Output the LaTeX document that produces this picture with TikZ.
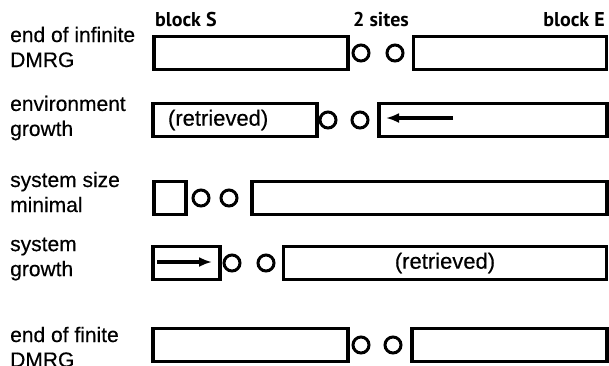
\documentclass[tikz,border=0pt]{standalone}
\usepackage{fontspec}
\setmainfont{Liberation Sans}[FakeBold=0.4]
\newfontfamily\hdrfont{PT Sans}
\usetikzlibrary{arrows.meta}
\begin{document}
\begin{tikzpicture}[x=1pt,y=-1pt,
  blk/.style={draw, line width=3.2pt, inner sep=0pt, minimum height=33pt,
    font=\fontsize{22}{24}\selectfont},
  site/.style={draw, circle, line width=3pt, inner sep=0pt, minimum size=16pt},
  lbl/.style={anchor=west, align=left, inner sep=0pt,
    font=\fontsize{21}{25}\selectfont},
  hdr/.style={anchor=base, inner sep=0pt, font=\hdrfont\bfseries\fontsize{20}{22}\selectfont},
  growarrow/.style={line width=3.2pt, -{Latex[length=13pt,width=10pt]}}
]
\useasboundingbox (0,0) rectangle (609,365);

% column headings
\node[hdr, anchor=base west] (hS) at (155,26) {block S};
\node[hdr] (hsites) at (381,26) {2 sites};
\node[hdr, anchor=base east] (hE) at (605,26) {block E};

% end of infinite DMRG
\node[lbl] (l1) at (10,47) {end of infinite\\DMRG};
\node[blk, minimum width=194pt] (s1) at (251,53) {};
\node[site] (a1) at (361,53) {};
\node[site] (b1) at (395,53) {};
\node[blk, minimum width=193pt] (e1) at (510,53) {};

% environment growth
\node[lbl] (l2) at (10,118) {environment\\growth};
\node[blk, minimum width=164pt, text width=134pt, align=left] (s2) at (235,120) {(retrieved)};
\node[site] (a2) at (328,120) {};
\node[site] (b2) at (360,120) {};
\node[blk, minimum width=228pt] (e2) at (493,120) {};
\coordinate (e2from) at (453,118);
\coordinate (e2to) at (386,118);
\draw[growarrow] (e2from) -- (e2to);

% system size minimal
\node[lbl] (l3) at (10,192) {system size\\minimal};
\node[blk, minimum width=32pt] (s3) at (170,198) {};
\node[site] (a3) at (201,198) {};
\node[site] (b3) at (229,198) {};
\node[blk, minimum width=355pt] (e3) at (429.5,198) {};

% system growth
\node[lbl] (l4) at (10,259) {system\\growth};
\node[blk, minimum width=67pt] (s4) at (186.5,263) {};
\node[site] (a4) at (232,263) {};
\node[site] (b4) at (266,263) {};
\node[blk, minimum width=323pt] (e4) at (445,263) {(retrieved)};
\coordinate (s4from) at (157,262);
\coordinate (s4to) at (212,262);
\draw[growarrow] (s4from) -- (s4to);

% end of finite DMRG
\node[lbl] (l5) at (10,347) {end of finite\\DMRG};
\node[blk, minimum width=195pt] (s5) at (250.5,345) {};
\node[site] (a5) at (361,345) {};
\node[site] (b5) at (393,345) {};
\node[blk, minimum width=195pt] (e5) at (509.5,345) {};
\end{tikzpicture}
\end{document}
